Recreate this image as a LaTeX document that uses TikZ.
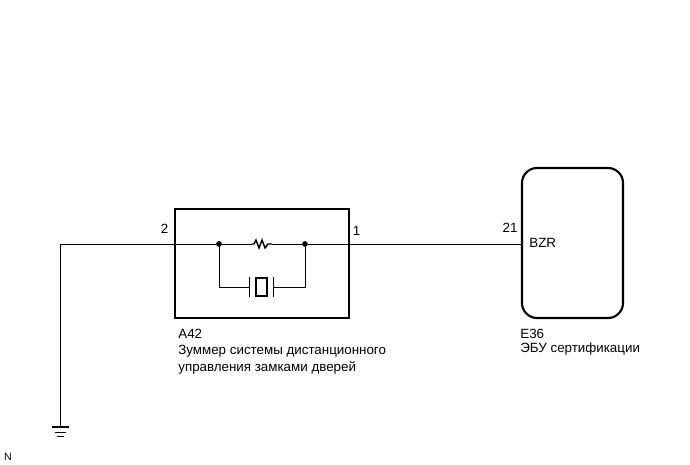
\documentclass[tikz,border=0pt]{standalone}
\usepackage{fontspec}
\setmainfont{Liberation Sans}
\tikzset{
	wire/.style={line width=0.55pt},
	unitbox/.style={draw, line width=1.2pt, inner sep=0pt, minimum width=174*0.02cm, minimum height=109*0.02cm},
	ecubox/.style={draw, line width=1.2pt, rounded corners=0.3cm, inner sep=0pt, minimum width=101*0.02cm, minimum height=150*0.02cm},
	junction/.style={circle, fill=black, inner sep=0pt, minimum size=0.115cm},
	lbl/.style={inner sep=0pt, font=\fontsize{7.6pt}{9.4pt}\selectfont},
	caption/.style={lbl, anchor=north west, align=left}
}
\begin{document}
\begin{tikzpicture}[x=0.02cm, y=-0.02cm]
	\useasboundingbox (0, 0) rectangle (690, 465);

	\node[unitbox] (buzzer) at (262, 263.5) {};
	\node[ecubox] (ecu) at (572.5, 243) {};

	\coordinate (gnd) at (60, 427);
	\coordinate (corner) at (60, 244);
	\node[junction] (jl) at (219, 244) {};
	\node[junction] (jr) at (305, 244) {};
	\coordinate (ecupin) at (ecu.west |- corner);
	\coordinate (bl) at (219, 287);
	\coordinate (br) at (305, 287);
	\coordinate (rl) at (252, 244);
	\coordinate (rr) at (272, 244);
	\coordinate (pl) at (249.5, 287);
	\coordinate (pr) at (273.5, 287);

	% wires
	\draw[wire] (gnd) -- (corner) -- (jl) -- (rl);
	\draw[wire] (rr) -- (jr) -- (ecupin);
	\draw[wire] (jl) -- (bl) -- (pl);
	\draw[wire] (jr) -- (br) -- (pr);

	% resistor
	\draw[line width=0.8pt] (rl) -- ++(2, 0) -- ++(2, -4) -- ++(3, 8) -- ++(3, -8) -- ++(3, 8) -- ++(3, -4) -- (rr);

	% crystal
	\draw[line width=0.9pt] (pl) ++(0, -10) -- ++(0, 20);
	\draw[line width=0.9pt] (pr) ++(0, -10) -- ++(0, 20);
	\draw[line width=0.9pt] (256, 278) rectangle (267, 296);

	% ground
	\draw[line width=1.1pt] (gnd) ++(-8.5, 0) -- ++(17, 0);
	\draw[wire] (gnd) ++(-5.5, 5) -- ++(11, 0);
	\draw[wire] (gnd) ++(-3.5, 9) -- ++(7, 0);

	\node[lbl] (pin2) at (164.5, 229) {2};
	\node[lbl] (pin1) at (356.5, 231) {1};
	\node[lbl] (pin21) at (510, 228) {21};
	\node[lbl, anchor=west] (bzr) at (529, 242.5) {BZR};

	\node[caption] (capa) at (178, 328.5) {A42\\Зуммер системы дистанционного\\управления замками дверей};
	\node[caption] (cape) at (520, 329) {E36\\[-1.4pt]ЭБУ сертификации};
	\node[lbl, font=\fontsize{6pt}{7pt}\selectfont] (ncode) at (8, 456.5) {N};
\end{tikzpicture}
\end{document}
